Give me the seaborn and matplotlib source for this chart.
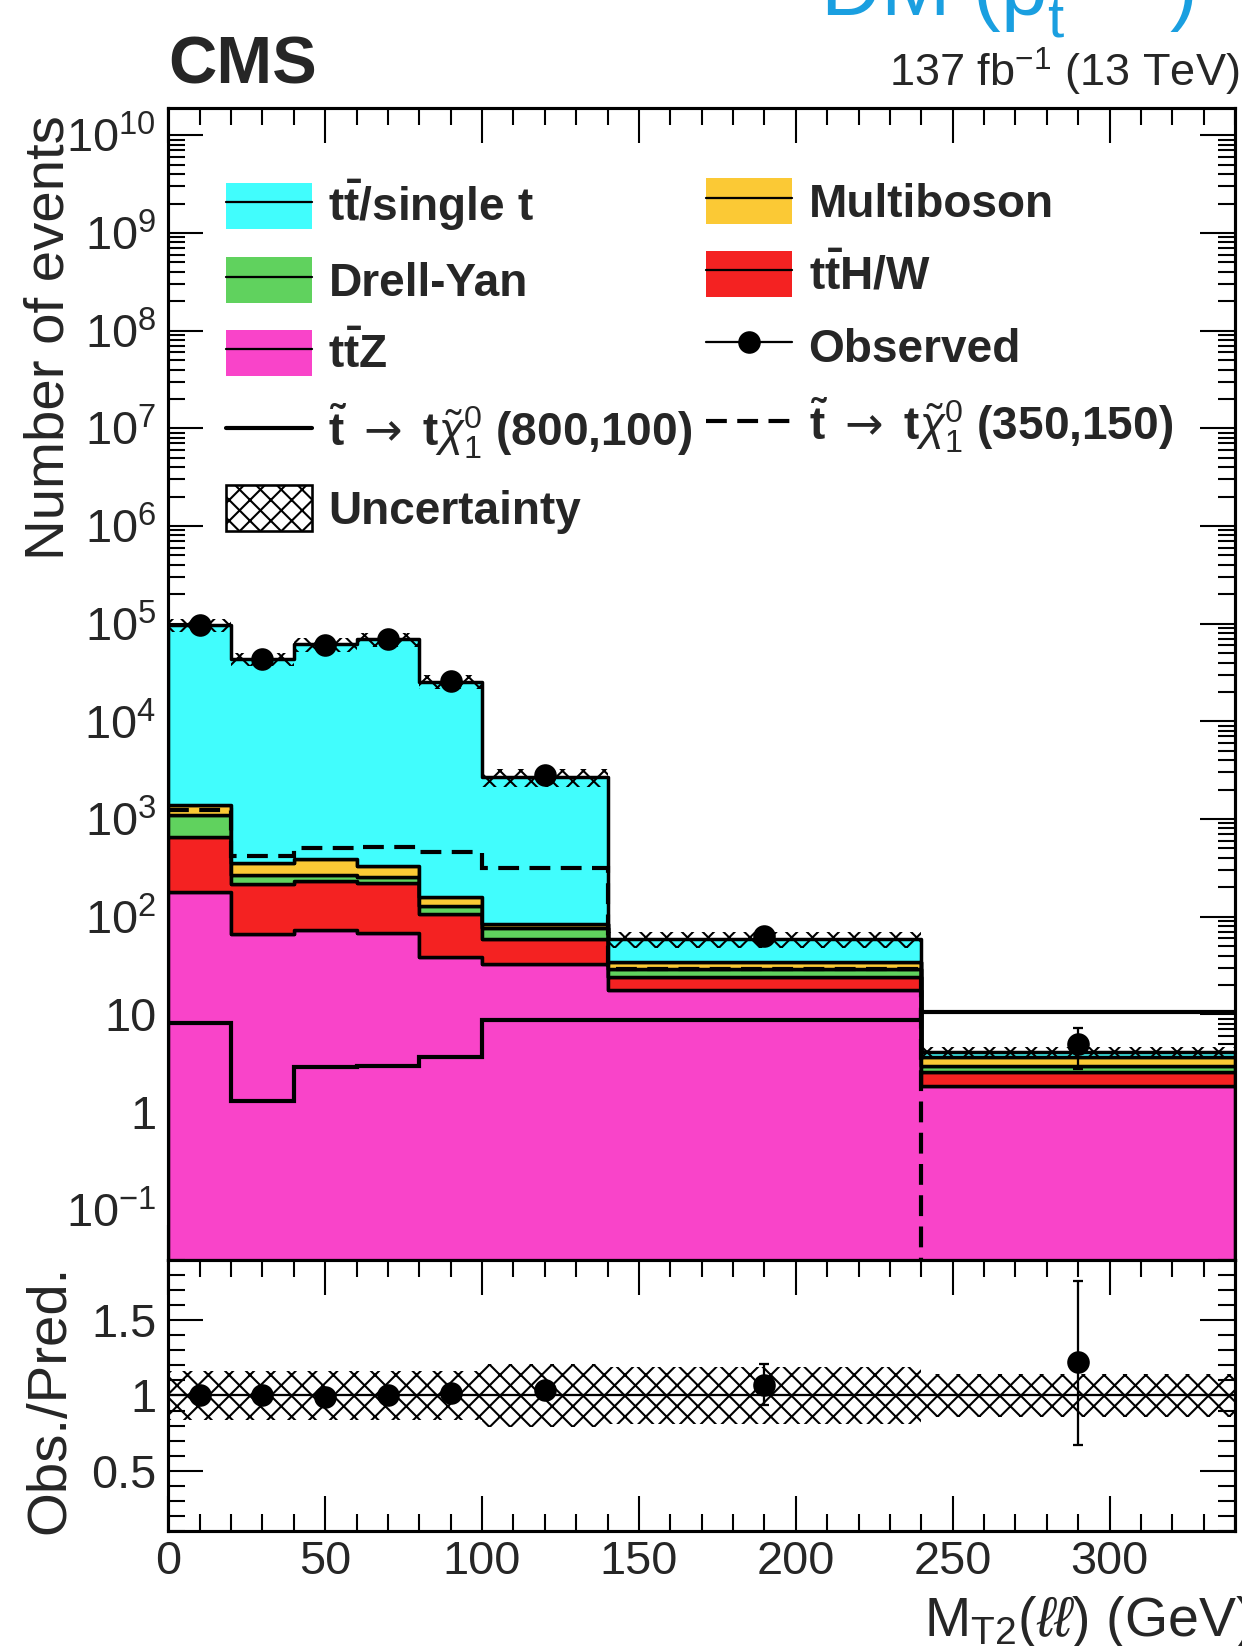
import numpy as np
import pandas as pd
import seaborn as sns
import matplotlib.pyplot as plt
from matplotlib.patches import Patch
from matplotlib.lines import Line2D
from matplotlib.legend_handler import HandlerTuple
from matplotlib.ticker import FuncFormatter, LogLocator, NullFormatter, MultipleLocator

## bins of MT2(ll) in GeV
edges = [0, 20, 40, 60, 80, 100, 140, 240, 340]
centers = [10, 30, 50, 70, 90, 120, 190, 290]

## background predictions (events per bin)
ttbar = [95600, 43150, 61100, 68700, 25340, 2626, 24.2, 0.44]
multiboson = [290, 85, 121, 80, 31, 8.2, 5.4, 0.67]
drell_yan = [450, 51, 32, 33, 22, 17.2, 4.9, 0.39]
tthw = [470, 150, 161, 152, 68, 26, 6.5, 0.74]
ttz = [180, 66, 73, 67.6, 38.9, 32.8, 17.8, 1.85]

## signal points (last bin of 350,150 is empty)
sig_800_100 = [8.1, 1.31, 2.91, 2.95, 3.63, 8.8, 8.8, 10.5]
sig_350_150 = [1236, 418, 502, 521, 465, 313, 29.0, 0]

## observed
observed = [97000, 43500, 61000, 69300, 26000, 2800, 63, 5]
obs_err_lo = [310, 210, 250, 265, 160, 53, 8, 2.25]
obs_err_hi = [310, 210, 250, 265, 160, 53, 8, 2.2]

## relative uncertainty of the prediction
rel_unc = [0.16, 0.16, 0.16, 0.16, 0.16, 0.21, 0.19, 0.14]

sns.set_style('ticks')
plt.rcParams['font.family'] = ['Liberation Sans', 'DejaVu Sans']
plt.rcParams['mathtext.fontset'] = 'custom'
plt.rcParams['mathtext.rm'] = 'Liberation Sans'
plt.rcParams['mathtext.it'] = 'Liberation Sans:italic'
plt.rcParams['mathtext.bf'] = 'Liberation Sans:bold'
plt.rcParams['mathtext.sf'] = 'DejaVu Sans'
plt.rcParams['hatch.linewidth'] = 1.2

names = ['tt/single t', 'Multiboson', 'Drell-Yan', 'ttH/W', 'ttZ']  # top -> bottom of the stack
colors = ['#41fdfd', '#fbc935', '#60d25e', '#f42222', '#f944c9']
values = [ttbar, multiboson, drell_yan, tthw, ttz]

fig = plt.figure(figsize=(9.936, 13.168), dpi=125)
ax = fig.add_axes([0.1355, 0.2345, 0.8589, 0.6999])
rax = fig.add_axes([0.1355, 0.0699, 0.8589, 0.1646], sharex=ax)
ax.set_yscale('log')

bkg = pd.DataFrame({'mt2': np.tile(centers, len(names)),
                    'events': np.concatenate(values),
                    'process': np.repeat(names, len(centers))})
sns.histplot(data=bkg, x='mt2', weights='events', hue='process', hue_order=names,
             palette=colors, bins=edges, multiple='stack', element='step',
             fill=True, alpha=1, edgecolor='k', linewidth=2, legend=False, ax=ax)

total = np.sum(values, axis=0)
unc = np.array(rel_unc)
tot_ext = np.append(total, total[-1])
unc_ext = np.append(unc, unc[-1])

## uncertainty band
ax.fill_between(edges, tot_ext * (1 - unc_ext), tot_ext * (1 + unc_ext), step='post',
                facecolor='none', edgecolor='k', hatch='xx', linewidth=0, zorder=3)

## signals
dash = (0, (5, 2.5))
sig2 = np.array(sig_350_150, dtype=float)
ax.stairs(sig_800_100, edges, baseline=None, color='k', lw=2.4, zorder=4)
ax.stairs(np.where(sig2 > 0, sig2, 1e-4), edges, baseline=None, color='k', lw=2.4,
          ls=dash, zorder=4)

## data
ax.errorbar(centers, observed, yerr=[obs_err_lo, obs_err_hi], fmt='o', color='k',
            ms=12, elinewidth=1.3, capsize=3, capthick=1.3, zorder=5)

ax.set_xlim(0, 340)
ax.set_ylim(10 ** -1.515, 10 ** 10.28)
ax.set_xlabel('')
ax.set_ylabel('')


def log_label(v, pos):
    e = int(round(np.log10(v)))
    if e == 0:
        return '1'
    if e == 1:
        return '10'
    return r'$\mathregular{10^{%d}}$' % e


ax.yaxis.set_major_locator(LogLocator(base=10, numticks=30))
ax.yaxis.set_minor_locator(LogLocator(base=10, subs=np.arange(2, 10), numticks=300))
ax.yaxis.set_major_formatter(FuncFormatter(log_label))
ax.yaxis.set_minor_formatter(NullFormatter())

## ratio panel
ratio = np.array(observed) / total
rax.fill_between(edges, 1 - unc_ext, 1 + unc_ext, step='post', facecolor='none',
                 edgecolor='k', hatch='xx', linewidth=0, zorder=2)
rax.axhline(1, color='k', lw=1.3, zorder=3)
rax.errorbar(centers, ratio, yerr=[np.array(obs_err_lo) / total, np.array(obs_err_hi) / total],
             fmt='o', color='k', ms=12, elinewidth=1.3, capsize=3, capthick=1.3, zorder=5)
rax.set_ylim(0.1, 1.9)
rax.set_yticks([0.5, 1, 1.5], labels=['0.5', '1', '1.5'])
rax.yaxis.set_minor_locator(MultipleLocator(0.1))
rax.xaxis.set_major_locator(MultipleLocator(50))
rax.xaxis.set_minor_locator(MultipleLocator(10))

for a in (ax, rax):
    a.tick_params(which='both', direction='in', top=True, right=True, width=1.2,
                  labelsize=27, color='k')
    a.tick_params(which='major', length=20)
    a.tick_params(which='minor', length=10)
    a.tick_params(axis='y', pad=7)
    a.tick_params(axis='x', pad=5)
    for s in a.spines.values():
        s.set_linewidth(1.8)
        s.set_color('k')
ax.tick_params(labelbottom=False)

## legend
fs = 26.5


def box(c):
    return (Patch(facecolor=c, edgecolor='none'), Line2D([], [], color='k', lw=1.3))


def sig_label(m1, m2):
    return r'$\mathbf{\tilde{t}}$ $\mathsf{\rightarrow}$ t$\tilde{\chi}^{0}_{1}$ (%d,%d)' % (m1, m2)


leg_kw = dict(loc='upper left', frameon=False, borderpad=0, borderaxespad=0,
              prop={'weight': 'bold', 'size': fs}, handlelength=1.88, handleheight=1.16,
              handletextpad=0.35, labelspacing=0.52,
              handler_map={tuple: HandlerTuple(ndivide=1)})

h1 = [box(colors[0]), box(colors[2]), box(colors[4]), Line2D([], [], color='k', lw=2.4),
      Patch(facecolor='white', edgecolor='k', hatch='xx', lw=1.5)]
l1 = [r'$\mathbf{t\bar{t}}$/single t', 'Drell-Yan', r'$\mathbf{t\bar{t}}$Z',
      sig_label(800, 100), 'Uncertainty']
leg1 = ax.legend(h1, l1, bbox_to_anchor=(0.054, 0.939), **leg_kw)
ax.add_artist(leg1)

h2 = [box(colors[1]), box(colors[3]),
      Line2D([], [], color='k', lw=1.3, marker='o', ms=12),
      Line2D([], [], color='k', lw=2.4, ls=dash)]
l2 = ['Multiboson', r'$\mathbf{t\bar{t}}$H/W', 'Observed', sig_label(350, 150)]
ax.legend(h2, l2, bbox_to_anchor=(0.504, 0.939), **leg_kw)

## labels
fig.text(24 / 1242, 1 - 115 / 1646, 'Number of events', rotation=90, ha='left', va='top', size=32.5)
fig.text(24 / 1242, 1 - 1265 / 1646, 'Obs./Pred.', rotation=90, ha='left', va='top', size=32.5)
fig.text(924 / 1242, 10 / 1646, r'M$_{\mathregular{T2}}$($\ell\ell$) (GeV)', ha='left',
         va='baseline', size=32)
fig.text(168 / 1242, 1 - 84 / 1646, 'CMS', weight='bold', size=38.5, va='baseline')
fig.text(1239 / 1242, 1 - 87 / 1646, r'137 fb$^{\mathregular{-1}}$ (13 TeV)', ha='right',
         va='baseline', size=26)
fig.text(820 / 1242, 1 - 15 / 1646, r'DM (p$_{\mathregular{t}}^{\mathregular{miss}}$)',
         color='#1a9fe0', size=48, va='baseline')

fig.savefig('out.png', dpi=125, facecolor='white')
